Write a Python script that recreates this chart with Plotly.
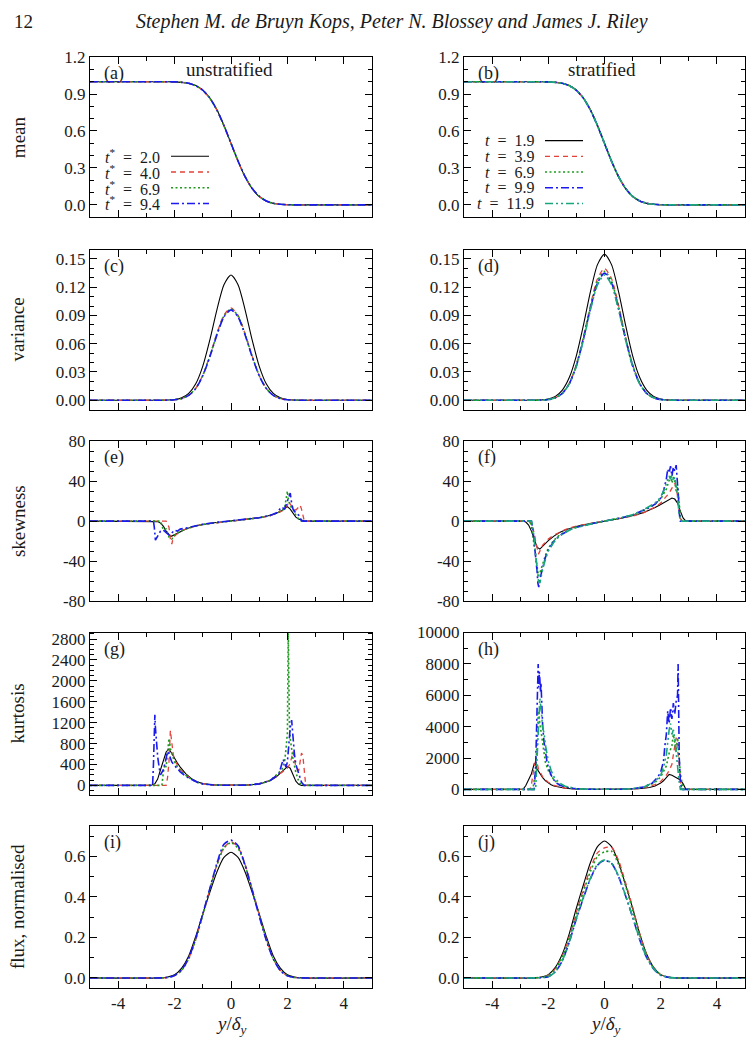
import plotly.graph_objects as go

# ---------------- data ----------------
XS = [-5, -2.5, -2.25, -2, -1.75, -1.5, -1.25, -1, -0.75, -0.5, -0.25, 0,
      0.25, 0.5, 0.75, 1, 1.25, 1.5, 1.75, 2, 2.25, 2.5, 5]

# (a) mean, unstratified
MEAN_U_K = [1, 1, 1, 0.999, 0.995, 0.988, 0.969, 0.932, 0.868, 0.772, 0.645, 0.5, 0.355, 0.228, 0.132, 0.068, 0.031, 0.012, 0.005, 0.001, 0, 0, 0]
MEAN_U_R = [1, 1, 1, 0.999, 0.995, 0.987, 0.967, 0.929, 0.864, 0.768, 0.642, 0.498, 0.354, 0.228, 0.133, 0.069, 0.032, 0.013, 0.005, 0.001, 0, 0, 0]
MEAN_U_G = [1, 1, 1, 0.999, 0.995, 0.987, 0.968, 0.930, 0.866, 0.770, 0.643, 0.499, 0.355, 0.229, 0.133, 0.069, 0.032, 0.012, 0.005, 0.001, 0, 0, 0]
MEAN_U_B = [1, 1, 1, 0.999, 0.995, 0.988, 0.968, 0.931, 0.867, 0.771, 0.644, 0.500, 0.356, 0.229, 0.134, 0.070, 0.032, 0.013, 0.005, 0.001, 0, 0, 0]
# (b) mean, stratified
MEAN_S_K = [1, 1, 1, 0.999, 0.995, 0.988, 0.969, 0.932, 0.868, 0.772, 0.645, 0.5, 0.355, 0.228, 0.132, 0.068, 0.031, 0.012, 0.005, 0.001, 0, 0, 0]
MEAN_S_R = [1, 1, 1, 0.999, 0.995, 0.988, 0.968, 0.931, 0.867, 0.771, 0.644, 0.499, 0.355, 0.229, 0.133, 0.069, 0.031, 0.012, 0.005, 0.001, 0, 0, 0]
MEAN_S_G = [1, 1, 1, 0.999, 0.995, 0.987, 0.968, 0.930, 0.866, 0.770, 0.643, 0.499, 0.355, 0.229, 0.133, 0.069, 0.032, 0.013, 0.005, 0.001, 0, 0, 0]
MEAN_S_B = [1, 1, 1, 0.999, 0.995, 0.987, 0.967, 0.929, 0.865, 0.769, 0.642, 0.498, 0.354, 0.229, 0.134, 0.070, 0.032, 0.013, 0.005, 0.001, 0, 0, 0]
MEAN_S_T = [1, 1, 1, 0.999, 0.995, 0.987, 0.967, 0.930, 0.866, 0.770, 0.643, 0.499, 0.355, 0.229, 0.134, 0.070, 0.032, 0.013, 0.005, 0.001, 0, 0, 0]

# (c) variance, unstratified
VAR_U_K = [0, 0, 0.0002, 0.0007, 0.0025, 0.0072, 0.0174, 0.0362, 0.064, 0.096, 0.1226, 0.133, 0.1226, 0.096, 0.064, 0.0362, 0.0174, 0.0072, 0.0025, 0.0007, 0.0002, 0, 0]
VAR_U_R = [0, 0, 0.0001, 0.0005, 0.0018, 0.0052, 0.0127, 0.0266, 0.0472, 0.0708, 0.0905, 0.098, 0.0902, 0.0704, 0.0468, 0.0262, 0.0126, 0.0051, 0.0018, 0.0005, 0.0001, 0, 0]
VAR_U_G = [0, 0, 0.0001, 0.0005, 0.0018, 0.0052, 0.0126, 0.0264, 0.0467, 0.070, 0.0894, 0.097, 0.0894, 0.070, 0.0467, 0.0264, 0.0126, 0.0052, 0.0018, 0.0005, 0.0001, 0, 0]
VAR_U_B = [0, 0, 0.0001, 0.0005, 0.0018, 0.0051, 0.0124, 0.0261, 0.0462, 0.0693, 0.0885, 0.096, 0.0885, 0.0693, 0.0462, 0.0261, 0.0124, 0.0051, 0.0018, 0.0005, 0.0001, 0, 0]
# (d) variance, stratified
VAR_S_K = [0, 0, 0.0004, 0.0014, 0.0041, 0.0108, 0.0243, 0.0474, 0.0797, 0.1153, 0.144, 0.155, 0.144, 0.1153, 0.0797, 0.0474, 0.0243, 0.0108, 0.0041, 0.0014, 0.0004, 0, 0]
VAR_S_R = [0, 0, 0.0002, 0.0008, 0.0026, 0.0076, 0.0183, 0.0381, 0.0673, 0.101, 0.129, 0.140, 0.129, 0.101, 0.0673, 0.0381, 0.0183, 0.0076, 0.0026, 0.0008, 0.0002, 0, 0]
VAR_S_G = [0, 0, 0.0002, 0.0008, 0.0026, 0.0074, 0.0179, 0.0373, 0.0659, 0.0989, 0.1263, 0.137, 0.1263, 0.0989, 0.0659, 0.0373, 0.0179, 0.0074, 0.0026, 0.0008, 0.0002, 0, 0]
VAR_S_B = [0, 0, 0.0002, 0.0007, 0.0025, 0.0073, 0.0177, 0.0367, 0.0649, 0.0975, 0.1245, 0.135, 0.1245, 0.0975, 0.0649, 0.0367, 0.0177, 0.0073, 0.0025, 0.0007, 0.0002, 0, 0]
VAR_S_T = [0, 0, 0.0002, 0.0007, 0.0025, 0.0072, 0.0174, 0.0362, 0.064, 0.096, 0.1226, 0.133, 0.1226, 0.096, 0.064, 0.0362, 0.0174, 0.0072, 0.0025, 0.0007, 0.0002, 0, 0]

# (e) skewness, unstratified
SK_U_K_X = [-5, -2.7, -2.6, -2.5, -2.4, -2.3, -2.2, -2.15, -2.1, -2.0, -1.9, -1.8, -1.6, -1.4, -1.2, -1.0, -0.8, -0.6, -0.4, -0.2, 0, 0.2, 0.4, 0.6, 0.8, 1.0, 1.2, 1.4, 1.6, 1.8, 1.9, 2.0, 2.1, 2.2, 2.3, 2.4, 2.5, 2.6, 5]
SK_U_K = [0, 0, -0.5, -2, -5, -10, -14, -15, -15, -13.5, -12, -10.5, -7.8, -5.9, -4.5, -3.3, -2.4, -1.6, -1, -0.5, 0, 0.5, 1.1, 1.7, 2.5, 3.3, 4.3, 5.6, 7.5, 10.5, 12.5, 14.5, 12, 7.5, 4, 2, 0.7, 0, 0]
SK_U_R_X = [-5, -2.3, -2.2, -2.15, -2.1, -2.05, -2.0, -1.9, -1.8, -1.6, -1.4, -1.2, -1.0, -0.6, -0.2, 0, 0.2, 0.6, 1.0, 1.4, 1.6, 1.8, 1.9, 2.0, 2.05, 2.1, 2.2, 2.3, 2.4, 2.45, 2.5, 2.55, 2.6, 5]
SK_U_R = [0, 0, -6, -18, -23, -17, -15, -12, -10, -8, -6, -4.5, -3.3, -1.7, -0.5, 0, 0.5, 1.7, 3.3, 5.5, 7.5, 10, 12, 16, 20, 17, 13, 11, 14, 16, 12, 4, 0, 0]
SK_U_G_X = [-5, -2.5, -2.45, -2.4, -2.3, -2.2, -2.1, -2.0, -1.9, -1.8, -1.6, -1.4, -1.2, -1.0, -0.6, -0.2, 0, 0.2, 0.6, 1.0, 1.4, 1.6, 1.8, 1.9, 1.95, 2.0, 2.03, 2.1, 2.2, 2.3, 2.4, 2.5, 5]
SK_U_G = [0, 0, -4, -9, -8, -16, -18, -14, -12, -10, -8, -6, -4.5, -3.3, -1.7, -0.5, 0, 0.5, 1.7, 3.3, 5.6, 7.5, 10, 13, 20, 30, 22, 15, 12, 6, 2, 0, 0]
SK_U_B_X = [-5, -2.75, -2.72, -2.7, -2.68, -2.62, -2.55, -2.5, -2.4, -2.3, -2.2, -2.1, -2.0, -1.9, -1.8, -1.6, -1.4, -1.2, -1.0, -0.6, -0.2, 0, 0.2, 0.6, 1.0, 1.4, 1.6, 1.7, 1.8, 1.9, 2.0, 2.05, 2.1, 2.15, 2.2, 2.3, 2.4, 2.5, 2.55, 5]
SK_U_B = [0, 0, -6, -12, -19, -16, -13, -10, -9, -12, -14, -12, -9, -10, -8, -7, -5.5, -4.3, -3.2, -1.6, -0.5, 0, 0.5, 1.7, 3.4, 5.8, 8, 11, 14, 12, 20, 26, 28, 18, 12, 8, 6, 0.5, 0, 0]

# (f) skewness, stratified
SK_S_K_X = [-5, -2.9, -2.8, -2.7, -2.6, -2.5, -2.4, -2.3, -2.2, -2.0, -1.8, -1.6, -1.4, -1.2, -1.0, -0.8, -0.6, -0.4, -0.2, 0, 0.2, 0.4, 0.6, 0.8, 1.0, 1.2, 1.4, 1.6, 1.8, 2.0, 2.2, 2.4, 2.5, 2.6, 2.7, 2.8, 2.9, 5]
SK_S_K = [0, 0, -1, -4, -10, -18, -26, -28, -25, -19.5, -15, -11.5, -9, -7, -5.4, -4, -2.9, -1.9, -0.9, 0, 0.9, 1.9, 2.9, 4, 5.3, 6.8, 8.7, 11, 13.5, 16.5, 20, 23, 22, 18, 10, 3, 0, 0]
SK_S_R_X = [-5, -2.7, -2.6, -2.5, -2.45, -2.4, -2.35, -2.3, -2.25, -2.2, -2.1, -2.0, -1.8, -1.6, -1.4, -1.2, -1.0, -0.6, -0.2, 0, 0.2, 0.6, 1.0, 1.4, 1.8, 2.0, 2.2, 2.3, 2.4, 2.45, 2.5, 2.55, 2.6, 2.65, 2.7, 2.75, 5]
SK_S_R = [0, 0, -3, -12, -20, -28, -33, -30, -27, -24, -21, -18, -14, -11, -8.5, -6.5, -5, -2.8, -0.9, 0, 0.9, 2.8, 5, 8.5, 14, 18, 24, 28, 33, 36, 38, 33, 25, 12, 3, 0, 0]
SK_S_G_X = [-5, -2.65, -2.6, -2.55, -2.5, -2.45, -2.4, -2.35, -2.3, -2.25, -2.2, -2.1, -2.0, -1.8, -1.6, -1.4, -1.2, -1.0, -0.6, -0.2, 0, 0.2, 0.6, 1.0, 1.4, 1.8, 2.0, 2.2, 2.3, 2.35, 2.4, 2.45, 2.5, 2.55, 2.6, 2.65, 2.7, 2.75, 5]
SK_S_G = [0, 0, -5, -15, -28, -40, -50, -55, -52, -47, -42, -34, -27, -19, -14, -10.5, -7.8, -5.9, -3.2, -1, 0, 1, 3.2, 5.9, 10.5, 17, 22, 32, 40, 45, 38, 44, 40, 30, 35, 20, 5, 0, 0]
SK_S_B_X = [-5, -2.6, -2.55, -2.5, -2.45, -2.4, -2.37, -2.34, -2.3, -2.25, -2.2, -2.1, -2.0, -1.8, -1.6, -1.4, -1.2, -1.0, -0.6, -0.2, 0, 0.2, 0.6, 1.0, 1.4, 1.6, 1.8, 2.0, 2.1, 2.2, 2.25, 2.3, 2.35, 2.4, 2.45, 2.5, 2.55, 2.6, 2.63, 2.66, 2.7, 5]
SK_S_B = [0, 0, -8, -20, -35, -50, -62, -66, -58, -52, -45, -36, -29, -20, -14.5, -11, -8.2, -6.2, -3.3, -1, 0, 1, 3.3, 6.2, 11, 13.5, 17, 23, 30, 42, 52, 48, 55, 45, 54, 50, 56, 40, 25, 8, 0, 0]
SK_S_T_X = [-5, -2.6, -2.55, -2.5, -2.45, -2.4, -2.35, -2.3, -2.25, -2.2, -2.1, -2.0, -1.8, -1.6, -1.4, -1.2, -1.0, -0.6, -0.2, 0, 0.2, 0.6, 1.0, 1.4, 1.8, 2.0, 2.1, 2.2, 2.3, 2.35, 2.4, 2.45, 2.5, 2.55, 2.6, 2.65, 2.7, 5]
SK_S_T = [0, 0, -6, -18, -32, -48, -60, -62, -55, -48, -38, -30, -21, -15, -11.5, -8.5, -6.4, -3.4, -1, 0, 1, 3.4, 6.4, 11.5, 18, 24, 30, 38, 45, 42, 46, 40, 44, 35, 25, 8, 0, 0]

# (g) kurtosis, unstratified
KU_U_K_X = [-5, -2.85, -2.7, -2.6, -2.5, -2.4, -2.3, -2.2, -2.1, -2.0, -1.9, -1.8, -1.6, -1.4, -1.2, -1.0, -0.6, 0, 0.6, 1.0, 1.2, 1.4, 1.6, 1.8, 1.9, 2.0, 2.1, 2.2, 2.3, 2.4, 2.5, 5]
KU_U_K = [0, 0, 30, 120, 300, 480, 640, 700, 620, 520, 430, 350, 220, 130, 70, 35, 8, 2, 8, 30, 55, 95, 160, 260, 320, 360, 330, 200, 80, 20, 0, 0]
KU_U_R_X = [-5, -2.3, -2.25, -2.2, -2.15, -2.1, -2.05, -2.0, -1.9, -1.8, -1.6, -1.4, -1.2, -1.0, -0.6, 0, 0.6, 1.0, 1.4, 1.8, 2.0, 2.1, 2.2, 2.3, 2.4, 2.45, 2.5, 2.55, 2.6, 2.65, 5]
KU_U_R = [0, 0, 150, 450, 1050, 800, 600, 480, 380, 300, 200, 120, 65, 32, 8, 2, 8, 30, 100, 250, 330, 420, 650, 350, 280, 450, 620, 560, 250, 0, 0]
KU_U_G_X = [-5, -2.45, -2.4, -2.35, -2.3, -2.25, -2.2, -2.15, -2.1, -2.0, -1.9, -1.8, -1.6, -1.4, -1.2, -1.0, -0.6, 0, 0.6, 1.0, 1.4, 1.8, 1.9, 1.95, 2.0, 2.03, 2.05, 2.07, 2.1, 2.15, 2.2, 2.3, 2.4, 2.5, 5]
KU_U_G = [0, 0, 250, 400, 350, 600, 900, 700, 600, 450, 360, 290, 190, 115, 62, 30, 7, 2, 7, 28, 95, 300, 450, 700, 1000, 3000, 2000, 1200, 900, 700, 500, 250, 80, 0, 0]
KU_U_B_X = [-5, -2.78, -2.75, -2.72, -2.7, -2.68, -2.65, -2.6, -2.55, -2.5, -2.45, -2.4, -2.35, -2.3, -2.25, -2.2, -2.1, -2.0, -1.9, -1.8, -1.6, -1.4, -1.2, -1.0, -0.6, 0, 0.6, 1.0, 1.4, 1.7, 1.8, 1.85, 1.9, 1.95, 2.0, 2.05, 2.1, 2.15, 2.2, 2.25, 2.3, 2.4, 2.5, 2.6, 5]
KU_U_B = [0, 0, 400, 1000, 1350, 1100, 800, 550, 350, 200, 250, 300, 400, 550, 650, 600, 450, 380, 320, 260, 170, 110, 60, 30, 7, 2, 7, 30, 100, 220, 380, 500, 420, 350, 450, 800, 1100, 1250, 900, 600, 400, 220, 60, 0, 0]

# (h) kurtosis, stratified
KU_S_K_X = [-5, -2.9, -2.8, -2.7, -2.6, -2.5, -2.45, -2.4, -2.3, -2.2, -2.1, -2.0, -1.9, -1.8, -1.6, -1.4, -1.2, -1.0, -0.6, 0, 0.6, 1.0, 1.2, 1.4, 1.6, 1.8, 2.0, 2.1, 2.2, 2.3, 2.4, 2.5, 2.6, 2.7, 2.8, 2.9, 5]
KU_S_K = [0, 0, 250, 600, 1000, 1650, 1600, 1300, 1000, 750, 550, 400, 300, 220, 120, 70, 40, 20, 5, 2, 5, 20, 40, 70, 120, 220, 400, 550, 750, 950, 900, 800, 700, 600, 350, 0, 0]
KU_S_R_X = [-5, -2.65, -2.6, -2.55, -2.5, -2.45, -2.4, -2.35, -2.3, -2.2, -2.1, -2.0, -1.8, -1.6, -1.4, -1.2, -1.0, -0.6, 0, 0.6, 1.0, 1.4, 1.8, 2.0, 2.2, 2.3, 2.4, 2.45, 2.5, 2.55, 2.6, 2.65, 2.7, 2.75, 5]
KU_S_R = [0, 0, 300, 1000, 1500, 1800, 1700, 1300, 1100, 800, 600, 450, 250, 150, 90, 55, 30, 8, 2, 8, 30, 100, 300, 500, 900, 1200, 1600, 2200, 2800, 3300, 2500, 1800, 600, 0, 0]
KU_S_G_X = [-5, -2.55, -2.5, -2.45, -2.4, -2.35, -2.3, -2.25, -2.2, -2.15, -2.1, -2.0, -1.9, -1.8, -1.6, -1.4, -1.2, -1.0, -0.6, 0, 0.6, 1.0, 1.4, 1.8, 2.0, 2.2, 2.3, 2.4, 2.45, 2.5, 2.55, 2.6, 2.65, 2.7, 2.75, 2.8, 5]
KU_S_G = [0, 0, 600, 1200, 3000, 5000, 4200, 3500, 2800, 2200, 1700, 1200, 850, 600, 300, 160, 85, 40, 10, 3, 10, 40, 140, 450, 800, 1500, 2300, 2800, 3500, 3000, 2400, 3300, 2000, 1000, 500, 0, 0]
KU_S_B_X = [-5, -2.5, -2.45, -2.42, -2.4, -2.38, -2.36, -2.34, -2.32, -2.3, -2.28, -2.26, -2.24, -2.22, -2.2, -2.15, -2.1, -2.05, -2.0, -1.9, -1.8, -1.7, -1.6, -1.4, -1.2, -1.0, -0.6, 0, 0.6, 1.0, 1.4, 1.7, 1.9, 2.0, 2.1, 2.15, 2.2, 2.25, 2.3, 2.35, 2.4, 2.45, 2.5, 2.55, 2.6, 2.62, 2.64, 2.66, 2.7, 2.75, 5]
KU_S_B = [0, 0, 1500, 3500, 5500, 7000, 8000, 6500, 7500, 7000, 6200, 6800, 5200, 4500, 4000, 3000, 2300, 1800, 1400, 900, 600, 400, 280, 150, 80, 40, 10, 3, 10, 40, 150, 400, 800, 1100, 1800, 2800, 3500, 5000, 4200, 5200, 4500, 5500, 4800, 5600, 6000, 8000, 5000, 2000, 500, 0, 0]
KU_S_T_X = [-5, -2.45, -2.4, -2.35, -2.3, -2.25, -2.2, -2.15, -2.1, -2.0, -1.9, -1.8, -1.6, -1.4, -1.2, -1.0, -0.6, 0, 0.6, 1.0, 1.4, 1.8, 2.0, 2.1, 2.2, 2.3, 2.35, 2.4, 2.45, 2.5, 2.55, 2.6, 2.65, 2.7, 5]
KU_S_T = [0, 0, 2000, 4500, 5800, 5000, 3900, 3600, 2800, 1800, 1200, 800, 400, 200, 100, 45, 10, 3, 10, 45, 150, 500, 900, 1400, 2200, 3800, 4200, 3500, 3800, 3200, 2500, 1500, 600, 0, 0]

# (i) flux, unstratified
FL_U_K = [0, 0, 0.004, 0.015, 0.048, 0.108, 0.205, 0.317, 0.423, 0.523, 0.595, 0.62, 0.595, 0.523, 0.423, 0.317, 0.205, 0.108, 0.048, 0.015, 0.004, 0, 0]
FL_U_R = [0, 0, 0.002, 0.011, 0.038, 0.096, 0.192, 0.312, 0.438, 0.558, 0.642, 0.672, 0.645, 0.562, 0.44, 0.313, 0.19, 0.094, 0.037, 0.010, 0.002, 0, 0]
FL_U_G = [0, 0, 0.002, 0.011, 0.037, 0.094, 0.19, 0.310, 0.436, 0.556, 0.642, 0.668, 0.640, 0.555, 0.435, 0.31, 0.19, 0.095, 0.038, 0.011, 0.002, 0, 0]
FL_U_B = [0, 0, 0.002, 0.012, 0.040, 0.098, 0.195, 0.316, 0.442, 0.565, 0.660, 0.680, 0.652, 0.556, 0.432, 0.305, 0.186, 0.093, 0.036, 0.010, 0.002, 0, 0]
# (j) flux, stratified
FL_S_K = [0, 0, 0.004, 0.016, 0.052, 0.118, 0.22, 0.345, 0.46, 0.57, 0.648, 0.676, 0.648, 0.57, 0.46, 0.345, 0.22, 0.118, 0.052, 0.016, 0.004, 0, 0]
FL_S_R = [0, 0, 0.003, 0.013, 0.046, 0.108, 0.205, 0.325, 0.437, 0.542, 0.617, 0.642, 0.645, 0.58, 0.47, 0.35, 0.22, 0.115, 0.05, 0.015, 0.004, 0, 0]
FL_S_G = [0, 0, 0.003, 0.012, 0.044, 0.104, 0.198, 0.316, 0.424, 0.526, 0.600, 0.622, 0.625, 0.56, 0.455, 0.335, 0.212, 0.11, 0.048, 0.015, 0.004, 0, 0]
FL_S_B = [0, 0, 0.001, 0.006, 0.030, 0.085, 0.178, 0.292, 0.395, 0.49, 0.556, 0.580, 0.565, 0.50, 0.405, 0.30, 0.19, 0.10, 0.044, 0.013, 0.003, 0, 0]
FL_S_T = [0, 0, 0.001, 0.006, 0.030, 0.086, 0.180, 0.295, 0.398, 0.492, 0.560, 0.582, 0.567, 0.502, 0.407, 0.302, 0.192, 0.101, 0.045, 0.013, 0.003, 0, 0]

SP = "\u2002"
LEG_U = [f"<i>t</i><sup>*</sup>{SP}={SP}2.0", f"<i>t</i><sup>*</sup>{SP}={SP}4.0",
         f"<i>t</i><sup>*</sup>{SP}={SP}6.9", f"<i>t</i><sup>*</sup>{SP}={SP}9.4"]
LEG_S = [f"<i>t</i>{SP}={SP}1.9", f"<i>t</i>{SP}={SP}3.9", f"<i>t</i>{SP}={SP}6.9",
         f"<i>t</i>{SP}={SP}9.9", f"<i>t</i>{SP}={SP}11.9"]
YLABELS = ["mean", "variance", "skewness", "kurtosis", "flux, normalised"]
PANEL_LABELS = ["(a)", "(b)", "(c)", "(d)", "(e)", "(f)", "(g)", "(h)", "(i)", "(j)"]
XTICKS = [-4, -2, 0, 2, 4]
XTICK_TEXT = ["-4", "-2", "0", "2", "4"]
SKEW_TICKS = [-80, -40, 0, 40, 80]
SKEW_TICK_TEXT = ["-80", "-40", "0", "40", "80"]

# ---------------- styling ----------------
W, H = 752, 1053
FONT = "Liberation Serif"
TXT = "#1a1a1a"
STY = {
    "k": dict(color="#000000", dash="solid", width=1.1),
    "r": dict(color="#e5413a", dash="5px,4px", width=1.3),
    "g": dict(color="#1f9a1f", dash="2px,2.5px", width=1.6),
    "b": dict(color="#1a1aee", dash="8px,3px,2px,3px", width=1.6),
    "t": dict(color="#1aa67c", dash="8px,3px,2px,3px,2px,3px", width=1.6),
}
COLX = [(90, 372), (464, 745)]
ROWY = [(49, 212), (245, 408), (440, 603), (635, 800), (832, 997)]
YRANGES = [[-0.1, 1.2], [-0.01, 0.16], [-80, 80], None, [-0.05, 0.75]]
KURT_RANGES = [[-175, 2925], [-330, 10000]]
YTICKS = [(0.3, 0.1), (0.03, 0.01), (40, 10), None, (0.2, 0.1)]
KURT_TICKS = [(400, 100), (2000, 1000)]
YFMT = [".1f", ".2f", "d", "d", ".1f"]

smooth_panels = {
    1: [("k", MEAN_U_K), ("r", MEAN_U_R), ("g", MEAN_U_G), ("b", MEAN_U_B)],
    2: [("k", MEAN_S_K), ("r", MEAN_S_R), ("g", MEAN_S_G), ("b", MEAN_S_B), ("t", MEAN_S_T)],
    3: [("k", VAR_U_K), ("r", VAR_U_R), ("g", VAR_U_G), ("b", VAR_U_B)],
    4: [("k", VAR_S_K), ("r", VAR_S_R), ("g", VAR_S_G), ("b", VAR_S_B), ("t", VAR_S_T)],
    9: [("k", FL_U_K), ("r", FL_U_R), ("g", FL_U_G), ("b", FL_U_B)],
    10: [("k", FL_S_K), ("r", FL_S_R), ("g", FL_S_G), ("b", FL_S_B), ("t", FL_S_T)],
}
noisy_panels = {
    5: [("k", SK_U_K_X, SK_U_K), ("r", SK_U_R_X, SK_U_R), ("g", SK_U_G_X, SK_U_G), ("b", SK_U_B_X, SK_U_B)],
    6: [("k", SK_S_K_X, SK_S_K), ("r", SK_S_R_X, SK_S_R), ("g", SK_S_G_X, SK_S_G), ("b", SK_S_B_X, SK_S_B), ("t", SK_S_T_X, SK_S_T)],
    7: [("k", KU_U_K_X, KU_U_K), ("r", KU_U_R_X, KU_U_R), ("g", KU_U_G_X, KU_U_G), ("b", KU_U_B_X, KU_U_B)],
    8: [("k", KU_S_K_X, KU_S_K), ("r", KU_S_R_X, KU_S_R), ("g", KU_S_G_X, KU_S_G), ("b", KU_S_B_X, KU_S_B), ("t", KU_S_T_X, KU_S_T)],
}

fig = go.Figure()

def ax_suffix(k):
    return "" if k == 1 else str(k)

for k, series in smooth_panels.items():
    for key, ys in series:
        fig.add_trace(go.Scatter(x=XS, y=ys, mode="lines", line=dict(**STY[key], shape="spline", smoothing=0.7),
                                 xaxis="x" + ax_suffix(k), yaxis="y" + ax_suffix(k), showlegend=False, hoverinfo="skip"))
for k, series in noisy_panels.items():
    for key, xs, ys in series:
        fig.add_trace(go.Scatter(x=xs, y=ys, mode="lines", line=dict(**STY[key]),
                                 xaxis="x" + ax_suffix(k), yaxis="y" + ax_suffix(k), showlegend=False, hoverinfo="skip"))

layout = dict(width=W, height=H, margin=dict(l=0, r=0, t=0, b=0),
              paper_bgcolor="white", plot_bgcolor="white",
              font=dict(family=FONT, size=17, color=TXT), showlegend=False)

def px(x):
    return x / W

def py(y):
    return 1 - y / H

def note(text, x, y, size=17, xanchor="center", angle=0):
    return dict(text=text, x=px(x), y=py(y), xref="paper", yref="paper", xanchor=xanchor, yanchor="middle",
                showarrow=False, textangle=angle, font=dict(family=FONT, size=size, color=TXT))

annotations = []
shapes = []
for r in range(5):
    for c in range(2):
        k = 2 * r + c + 1
        x0, x1 = COLX[c]
        y0, y1 = ROWY[r]
        if r == 3:
            yr = KURT_RANGES[c]
            dt, mt = KURT_TICKS[c]
        else:
            yr = YRANGES[r]
            dt, mt = YTICKS[r]
        common = dict(showline=True, linecolor="black", linewidth=1, mirror="allticks",
                      ticks="inside", ticklen=7, tickcolor="black", showgrid=False, zeroline=False,
                      tickfont=dict(family=FONT, size=17, color=TXT))
        layout["xaxis" + ax_suffix(k)] = dict(
            domain=[px(x0), px(x1)], range=[-5, 5], anchor="y" + ax_suffix(k),
            tickmode="array", tickvals=XTICKS, ticktext=XTICK_TEXT, showticklabels=(r == 4),
            minor=dict(ticks="inside", ticklen=4, tickmode="linear", dtick=1, tick0=-5, tickcolor="black", showgrid=False),
            **common)
        ydict = dict(domain=[py(y1), py(y0)], range=yr, anchor="x" + ax_suffix(k),
                     minor=dict(ticks="inside", ticklen=4, tickmode="linear", dtick=mt, tick0=0, tickcolor="black", showgrid=False),
                     **common)
        if r == 2:
            ydict.update(tickmode="array", tickvals=SKEW_TICKS, ticktext=SKEW_TICK_TEXT)
        else:
            ydict.update(tickmode="linear", tick0=0, dtick=dt, tickformat=YFMT[r])
        layout["yaxis" + ax_suffix(k)] = ydict
        annotations.append(note(PANEL_LABELS[k - 1], x0 + 12, y0 + 17, size=18, xanchor="left"))
    annotations.append(note(YLABELS[r], 18, (ROWY[r][0] + ROWY[r][1]) / 2, size=19, angle=-90))

# header and titles
annotations.append(note("12", 12, 13, size=19, xanchor="left"))
annotations.append(note("<i>Stephen M. de Bruyn Kops, Peter N. Blossey and James J. Riley</i>", 392, 13, size=20))
annotations.append(note("unstratified", 229, 62, size=19))
annotations.append(note("stratified", 602, 62, size=19))
for cx in (231, 605):
    annotations.append(note("<i>y</i>/<i>δ<sub>y</sub></i>", cx, 1035, size=19))

# legends (text + line sample to its right)
LEG_U_Y = [150, 166, 182, 198]
LEG_S_Y = [134, 150, 166, 182, 198]
for i, (lab, key) in enumerate(zip(LEG_U, ["k", "r", "g", "b"])):
    yy = LEG_U_Y[i]
    annotations.append(note(lab, 162, yy, size=16, xanchor="right"))
    shapes.append(dict(type="line", xref="paper", yref="paper", x0=px(171), x1=px(209), y0=py(yy), y1=py(yy),
                       line=dict(color=STY[key]["color"], dash=STY[key]["dash"], width=STY[key]["width"])))
for i, (lab, key) in enumerate(zip(LEG_S, ["k", "r", "g", "b", "t"])):
    yy = LEG_S_Y[i]
    annotations.append(note(lab, 536, yy, size=16, xanchor="right"))
    shapes.append(dict(type="line", xref="paper", yref="paper", x0=px(545), x1=px(583), y0=py(yy), y1=py(yy),
                       line=dict(color=STY[key]["color"], dash=STY[key]["dash"], width=STY[key]["width"])))

layout["annotations"] = annotations
layout["shapes"] = shapes
fig.update_layout(**layout)
fig.write_html("out.html")
